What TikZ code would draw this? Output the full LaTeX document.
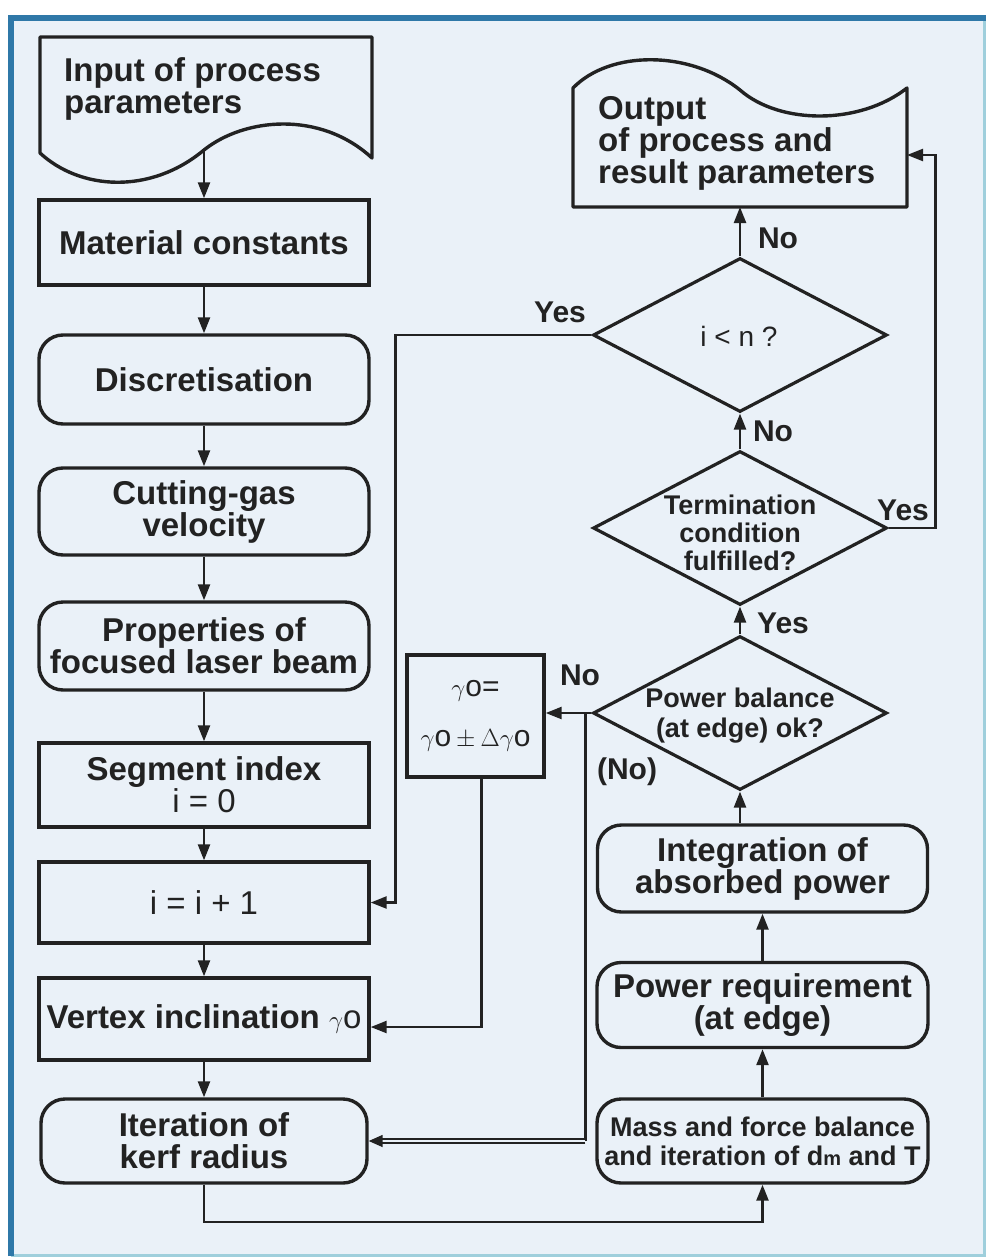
\documentclass[tikz,border=0pt]{standalone}
\usepackage{fontspec}
\setmainfont{Liberation Sans}
\usetikzlibrary{arrows.meta,shapes.geometric}
\definecolor{bg}{HTML}{EAF1F8}
\definecolor{frameblue}{HTML}{2F78A8}
\definecolor{framelight}{HTML}{9FCFDC}
\definecolor{ink}{HTML}{222222}
\newcommand{\gam}{\ensuremath{\gamma}o}
\begin{document}
\begin{tikzpicture}[x=1pt,y=-1pt,
  box/.style={draw=ink, line width=3.4pt, minimum width=330pt, inner sep=0pt, align=center, text=ink, font=\fontsize{33}{32}\selectfont\bfseries},
  rbox/.style={box, rounded corners=24pt},
  dia/.style={diamond, draw=ink, line width=3.2pt, inner sep=0pt, minimum width=294pt, minimum height=154pt},
  diatxt/.style={align=center, text=ink, inner sep=0pt, font=\fontsize{27}{28}\selectfont\bfseries},
  lbl/.style={text=ink, inner sep=0pt, font=\fontsize{30}{30}\selectfont\bfseries},
  doc/.style={draw=ink, line width=3.4pt, line join=round},
  doctxt/.style={anchor=north west, inner sep=0pt, align=left, text=ink, font=\fontsize{33}{32}\selectfont\bfseries},
  arr/.style={draw=ink, line width=2.4pt, -{Triangle[length=16pt,width=12pt]}},
  con/.style={draw=ink, line width=2.4pt},
  dbl/.style={draw=ink, line width=1.5pt, double=bg, double distance=2.5pt, -{Triangle[length=14pt,width=12pt]}}
]
\useasboundingbox (0,0) rectangle (986,1258);
% background and frame
\fill[white] (0,0) rectangle (986,1258);
\fill[bg] (8,15) rectangle (986,1256);
\draw[framelight, line width=3pt] (984,18) -- (984,1255) -- (11,1255);
\draw[frameblue, line width=6pt] (11,1256) -- (11,18) -- (986,18);

% left column
\draw[doc] (40,153) -- (40,37) -- (372,37) -- (372,158)
  .. controls (320,110) and (244,118) .. (204,150)
  .. controls (150,195) and (80,190) .. (40,153) -- cycle;
\node[doctxt] (inT) at (64,57) {Input of process\\parameters};
\coordinate (inS) at (204,150);

\node[box, minimum height=85pt] (mat) at (204,242.5) {Material constants};
\node[rbox, minimum height=89pt] (disc) at (204,379.5) {Discretisation};
\node[rbox, minimum height=87pt] (gas) at (204,511.5) {Cutting-gas\\velocity};
\node[rbox, minimum height=88pt] (prop) at (204,646) {Properties of\\focused laser beam};
\node[box, minimum height=84pt] (seg) at (204,785) {Segment index\\{\mdseries i = 0}};
\node[box, minimum height=81pt] (inc) at (204,902.5) {\mdseries i = i + 1};
\node[box, minimum height=82pt] (vert) at (204,1019) {Vertex inclination {\mdseries\gam}};
\node[rbox, minimum height=84pt, minimum width=326pt] (kerf) at (204,1141) {Iteration of\\kerf radius};

% right column
\draw[doc] (573,207) -- (573,88)
  .. controls (610,50) and (690,50) .. (740,90)
  .. controls (780,125) and (860,125) .. (907,88) -- (907,207) -- cycle;
\node[doctxt] (outT) at (598,96) {Output\\of process and\\result parameters};
\coordinate (outS) at (740,207);
\coordinate (outE) at (907,155);

\node[dia] (ilt) at (740,335) {};
\node[diatxt, font=\fontsize{28}{28}\selectfont] (iltT) at (739,336) {i < n ?};
\node[dia] (term) at (740,528) {};
\node[diatxt] (termT) at (740,533) {Termination\\condition\\fulfilled?};
\node[dia] (pb) at (740,713) {};
\node[diatxt, font=\fontsize{27}{30}\selectfont\bfseries] (pbT) at (740,716) {Power balance\\(at edge) ok?};
\node[rbox, minimum width=330pt, minimum height=87pt] (integ) at (762.5,868.5) {Integration of\\absorbed power};
\node[rbox, minimum width=331pt, minimum height=85pt] (preq) at (762.5,1005) {Power requirement\\(at edge)};
\node[rbox, minimum width=331pt, minimum height=84pt, font=\fontsize{27}{29}\selectfont\bfseries] (mass) at (762.5,1141) {Mass and force balance\\and iteration of d{\fontsize{20}{20}\selectfont m} and T};
\node[box, minimum width=137pt, minimum height=122pt, font=\fontsize{30}{50}\selectfont] (gamb) at (475.5,716) {\gam=\\\gam\,$\pm$\,$\Delta$\gam};

% connectors left column
\draw[arr] (inS) -- (mat.north);
\draw[arr] (mat.south) -- (disc.north);
\draw[arr] (disc.south) -- (gas.north);
\draw[arr] (gas.south) -- (prop.north);
\draw[arr] (prop.south) -- (seg.north);
\draw[arr] (seg.south) -- (inc.north);
\draw[arr] (inc.south) -- (vert.north);
\draw[arr] (vert.south) -- (kerf.north);
\draw[arr] (kerf.south) -- ++(0,37) -| (mass.south);

% connectors right column
\draw[arr] (mass.north) -- (preq.south);
\draw[arr] (preq.north) -- (integ.south);
\draw[arr] (integ.north -| pb.south) -- (pb.south);
\draw[arr] (pb.north) -- (term.south);
\draw[arr] (term.north) -- (ilt.south);
\draw[arr] (ilt.north) -- (outS);
\draw[arr] (term.east) -- ++(47,0) |- (outE);
\draw[arr] (ilt.west) -- ++(-196,0) |- (inc.east);
\draw[arr] (pb.west) -- (pb.west -| gamb.east);
\draw[arr] ([xshift=6pt]gamb.south) |- ([yshift=-8pt]vert.east);
\coordinate (nb) at ([xshift=-6pt]pb.west);
\draw[con] (nb) -- (nb |- kerf.east);
\draw[dbl] (nb |- kerf.east) -- (kerf.east);

% labels
\node[lbl] (lNo1) at (778,238) {No};
\node[lbl] (lYes1) at (560,312) {Yes};
\node[lbl] (lNo2) at (773,431) {No};
\node[lbl] (lYes2) at (903,510) {Yes};
\node[lbl] (lYes3) at (783,623) {Yes};
\node[lbl] (lNo3) at (580,675) {No};
\node[lbl] (lNo4) at (627,772) {(No)};
\end{tikzpicture}
\end{document}
